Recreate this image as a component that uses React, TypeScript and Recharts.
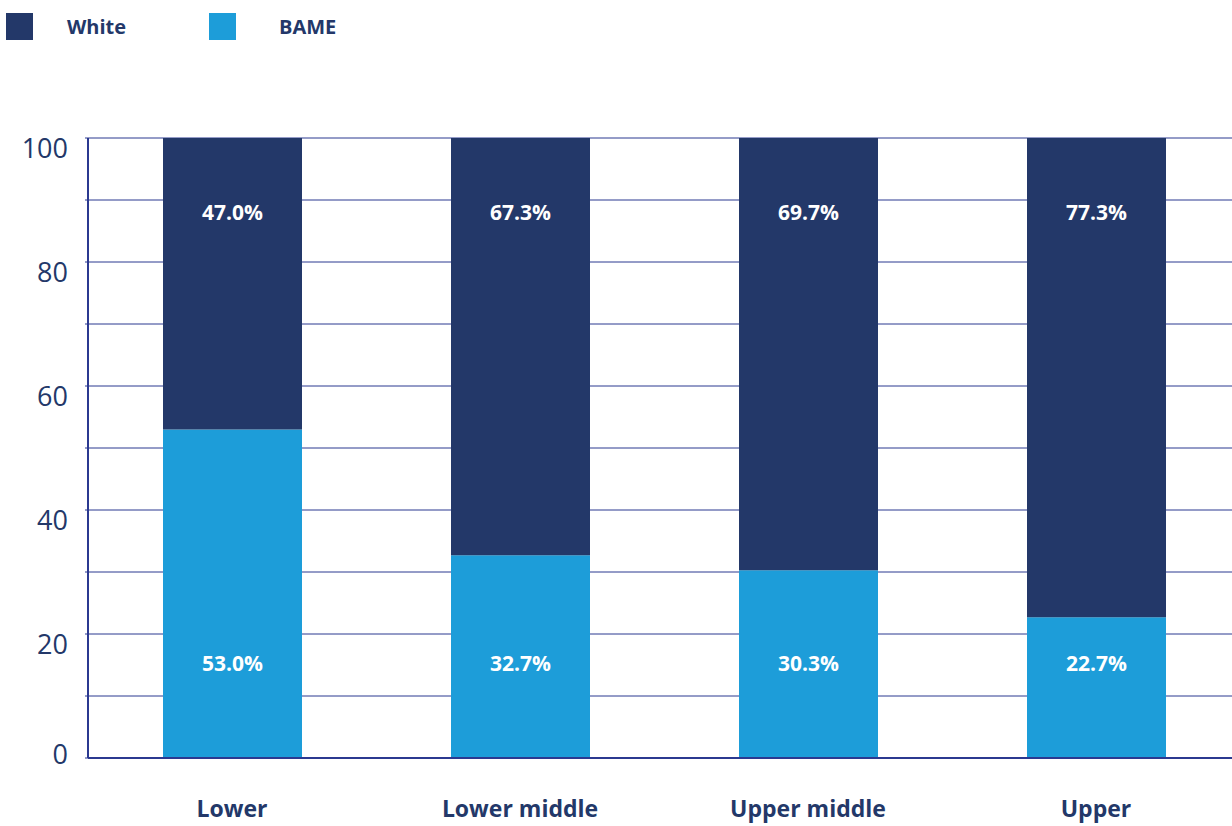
import React from 'react';
import {
  BarChart,
  Bar,
  XAxis,
  YAxis,
  CartesianGrid,
  LabelList,
} from 'recharts';

const categories = ['Lower', 'Lower middle', 'Upper middle', 'Upper'];
const whiteValues = [47.0, 67.3, 69.7, 77.3];
const bameValues = [53.0, 32.7, 30.3, 22.7];
const yTicks = [0, 10, 20, 30, 40, 50, 60, 70, 80, 90, 100];

const NAVY = '#233869';
const BLUE = '#1d9dd9';
const AXIS = '#2b3990';
const FONT = '"Open Sans", "Noto Sans", sans-serif';

const seriesInfo = [
  { key: 'white', name: 'White', color: NAVY, gap: 34 },
  { key: 'bame', name: 'BAME', color: BLUE, gap: 43 },
];

const data = categories.map((name, i) => ({
  name,
  white: whiteValues[i],
  bame: bameValues[i],
}));

// label near top of the white segment / bottom of the bame segment
const TopLabel = (props: any) => {
  const { x, y, width, value } = props;
  return (
    <text
      x={x + width / 2}
      y={y + 74}
      fill="#fff"
      textAnchor="middle"
      dominantBaseline="central"
      style={{ fontFamily: FONT, fontSize: 21, fontWeight: 700 }}
    >
      {Number(value).toFixed(1)}%
    </text>
  );
};

const BottomLabel = (props: any) => {
  const { x, y, width, height, value } = props;
  return (
    <text
      x={x + width / 2}
      y={y + height - 95}
      fill="#fff"
      textAnchor="middle"
      dominantBaseline="central"
      style={{ fontFamily: FONT, fontSize: 21, fontWeight: 700 }}
    >
      {Number(value).toFixed(1)}%
    </text>
  );
};

const YTick = (props: any) => {
  const { x, y, payload } = props;
  if (payload.value % 20 !== 0) return null;
  return (
    <text
      x={x}
      y={y + (payload.value === 0 ? -5 : 9)}
      fill={NAVY}
      textAnchor="end"
      dominantBaseline="central"
      style={{ fontFamily: FONT, fontSize: 27, fontWeight: 400 }}
    >
      {payload.value}
    </text>
  );
};

const XTick = (props: any) => {
  const { x, y, payload } = props;
  return (
    <text
      x={x}
      y={y + 42}
      fill={NAVY}
      textAnchor="middle"
      dominantBaseline="central"
      style={{ fontFamily: FONT, fontSize: 23, fontWeight: 700 }}
    >
      {payload.value}
    </text>
  );
};

export default function App() {
  return (
    <div
      style={{
        position: 'absolute',
        left: 0,
        top: 0,
        width: 1232,
        height: 826,
        overflow: 'hidden',
        background: '#fff',
      }}
    >
      <div style={{ position: 'absolute', left: 0, top: 0, fontFamily: FONT }}>
        {seriesInfo.map((s, i) => (
          <div
            key={s.key}
            style={{
              position: 'absolute',
              left: 6 + i * 203,
              top: 13,
              display: 'flex',
              alignItems: 'center',
              whiteSpace: 'nowrap',
            }}
          >
            <span style={{ width: 27, height: 27, background: s.color, display: 'inline-block' }} />
            <span
              style={{
                marginLeft: s.gap,
                color: NAVY,
                fontSize: 20,
                fontWeight: 700,
              }}
            >
              {s.name}
            </span>
          </div>
        ))}
      </div>
      <BarChart
        width={1250}
        height={826}
        data={data}
        margin={{ top: 138, right: 10, bottom: 0, left: 0 }}
      >
        <CartesianGrid horizontal vertical={false} stroke={AXIS} strokeWidth={1} />
        <XAxis
          dataKey="name"
          height={68}
          axisLine={{ stroke: AXIS, strokeWidth: 2 }}
          tickLine={false}
          tick={<XTick />}
        />
        <YAxis
          width={88}
          domain={[0, 100]}
          ticks={yTicks}
          interval={0}
          axisLine={{ stroke: AXIS, strokeWidth: 2 }}
          tickLine={{ stroke: AXIS }}
          tickSize={3}
          tickMargin={17}
          tick={<YTick />}
        />
        <Bar dataKey="bame" name="BAME" stackId="a" fill={BLUE} barSize={139} isAnimationActive={false}>
          <LabelList dataKey="bame" content={<BottomLabel />} />
        </Bar>
        <Bar dataKey="white" name="White" stackId="a" fill={NAVY} barSize={139} isAnimationActive={false}>
          <LabelList dataKey="white" content={<TopLabel />} />
        </Bar>
      </BarChart>
    </div>
  );
}
